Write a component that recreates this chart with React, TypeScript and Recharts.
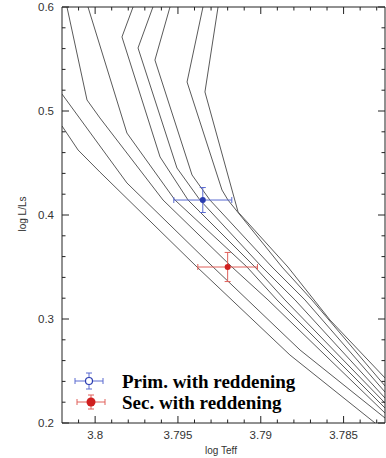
import { ComposedChart, ErrorBar, Line, Scatter, XAxis, YAxis } from "recharts";

const X_DOMAIN: [number, number] = [3.7825, 3.802];
const Y_DOMAIN: [number, number] = [0.2, 0.6];

const X_TICKS = [3.8, 3.795, 3.79, 3.785];
const X_MINOR = [
  3.783, 3.784, 3.786, 3.787, 3.788, 3.789, 3.791, 3.792, 3.793, 3.794, 3.796, 3.797,
  3.798, 3.799, 3.801,
];
const Y_TICKS = [0.2, 0.3, 0.4, 0.5, 0.6];
const Y_MINOR = [0.22, 0.24, 0.26, 0.28, 0.32, 0.34, 0.36, 0.38, 0.42, 0.44, 0.46, 0.48, 0.52, 0.54, 0.56, 0.58];

// evolutionary tracks (log Teff, log L)
const track1 = [
  { x: 3.802, y: 0.4856 },
  { x: 3.80103, y: 0.4625 },
  { x: 3.79971, y: 0.4413 },
  { x: 3.79385, y: 0.35 },
  { x: 3.78824, y: 0.2654 },
  { x: 3.7831, y: 0.2 },
];
const track2 = [
  { x: 3.802, y: 0.5163 },
  { x: 3.79808, y: 0.4308 },
  { x: 3.79288, y: 0.35 },
  { x: 3.78763, y: 0.2702 },
  { x: 3.7825, y: 0.2048 },
];
const track3 = [
  { x: 3.8017, y: 0.6 },
  { x: 3.80049, y: 0.5106 },
  { x: 3.79971, y: 0.4933 },
  { x: 3.7959, y: 0.4144 },
  { x: 3.79174, y: 0.35 },
  { x: 3.78956, y: 0.3183 },
  { x: 3.7825, y: 0.2096 },
];
const track4 = [
  { x: 3.80043, y: 0.6 },
  { x: 3.79808, y: 0.4788 },
  { x: 3.79518, y: 0.4144 },
  { x: 3.79083, y: 0.35 },
  { x: 3.78902, y: 0.3183 },
  { x: 3.7825, y: 0.2144 },
];
const track5 = [
  { x: 3.79771, y: 0.6 },
  { x: 3.79838, y: 0.5712 },
  { x: 3.79608, y: 0.4558 },
  { x: 3.79439, y: 0.4144 },
  { x: 3.79035, y: 0.35 },
  { x: 3.78854, y: 0.3183 },
  { x: 3.7825, y: 0.2192 },
];
const track6 = [
  { x: 3.79651, y: 0.6 },
  { x: 3.79741, y: 0.5606 },
  { x: 3.79506, y: 0.4452 },
  { x: 3.79367, y: 0.4144 },
  { x: 3.78993, y: 0.35 },
  { x: 3.78793, y: 0.3183 },
  { x: 3.7825, y: 0.224 },
];
const track7 = [
  { x: 3.79548, y: 0.6 },
  { x: 3.79639, y: 0.549 },
  { x: 3.79415, y: 0.4385 },
  { x: 3.79307, y: 0.4144 },
  { x: 3.78932, y: 0.35 },
  { x: 3.78733, y: 0.3183 },
  { x: 3.7825, y: 0.2298 },
];
const track8 = [
  { x: 3.79349, y: 0.6 },
  { x: 3.79445, y: 0.5279 },
  { x: 3.79234, y: 0.424 },
  { x: 3.79198, y: 0.4144 },
  { x: 3.78872, y: 0.35 },
  { x: 3.78691, y: 0.3183 },
  { x: 3.7825, y: 0.2356 },
];
const track9 = [
  { x: 3.79258, y: 0.6 },
  { x: 3.79337, y: 0.5183 },
  { x: 3.79137, y: 0.4029 },
  { x: 3.78836, y: 0.35 },
  { x: 3.78582, y: 0.299 },
  { x: 3.7825, y: 0.2433 },
];
const TRACKS = [track1, track2, track3, track4, track5, track6, track7, track8, track9];

const primary = [{ x: 3.7935, y: 0.4144, ex: 0.00175, ey: 0.012 }];
const secondary = [{ x: 3.792, y: 0.35, ex: 0.0018, ey: 0.014 }];

const AXIS = "#222";
const FONT = "Liberation Sans, Arial, sans-serif";
const BLUE = "#2a3cb0";
const BLUE_BAR = "#5a6bd0";
const RED = "#d01f1f";
const RED_BAR = "#e0605a";
const MAJOR = 7;
const MINOR = 3.5;
const MARGIN = 8;
const TOP = 7; // height of the top axis = y of the frame's top edge

const X_ALL = [...X_TICKS, ...X_MINOR];
const Y_ALL = [...Y_TICKS, ...Y_MINOR];
const isMajor = (list: number[], v: number) => list.some((t) => Math.abs(t - v) < 1e-7);

// tick marks point into the plot; the bottom tick also draws its twin on the top frame
function BottomTick(p: any) {
  const v = p.payload.value;
  const major = isMajor(X_TICKS, v);
  const len = major ? MAJOR : MINOR;
  const axisY = p.y - MARGIN;
  return (
    <g>
      <line x1={p.x} x2={p.x} y1={axisY} y2={axisY - len} stroke={AXIS} />
      <line x1={p.x} x2={p.x} y1={TOP} y2={TOP + len} stroke={AXIS} />
      {major && (
        <text x={p.x} y={p.y} dy="0.71em" textAnchor="middle" fontSize={11.5} fill="#333" fontFamily={FONT}>
          {String(v)}
        </text>
      )}
    </g>
  );
}

function LeftTick(p: any) {
  const v = p.payload.value;
  const major = isMajor(Y_TICKS, v);
  const axisX = p.x + MARGIN;
  return (
    <g>
      <line x1={axisX} x2={axisX + (major ? MAJOR : MINOR)} y1={p.y} y2={p.y} stroke={AXIS} />
      {major && (
        <text x={p.x} y={p.y} dy="0.355em" textAnchor="end" fontSize={11.5} fill="#333" fontFamily={FONT}>
          {Number(v).toFixed(1)}
        </text>
      )}
    </g>
  );
}

function RightTick(p: any) {
  const major = isMajor(Y_TICKS, p.payload.value);
  return <line x1={p.x} x2={p.x - (major ? MAJOR : MINOR)} y1={p.y} y2={p.y} stroke={AXIS} />;
}

function Dot(color: string) {
  return (p: any) => <circle cx={p.cx} cy={p.cy} r={3} fill={color} />;
}

export default function App() {
  return (
    <div style={{ position: "absolute", left: 0, top: 0, width: 386, height: 458, background: "#fff" }}>
      <ComposedChart width={386} height={458} margin={{ top: 0, right: 0, left: 0, bottom: 0 }}>
        <XAxis
          xAxisId="x"
          type="number"
          dataKey="x"
          domain={X_DOMAIN}
          reversed
          allowDataOverflow
          ticks={X_ALL}
          interval={0}
          height={35}
          tickLine={false}
          tickSize={0}
          tickMargin={MARGIN}
          axisLine={{ stroke: AXIS }}
          tick={BottomTick}
        />
        <XAxis
          xAxisId="top"
          orientation="top"
          type="number"
          domain={X_DOMAIN}
          reversed
          allowDataOverflow
          height={TOP}
          tickLine={false}
          tick={false}
          axisLine={{ stroke: AXIS }}
        />
        <YAxis
          yAxisId="y"
          type="number"
          dataKey="y"
          domain={Y_DOMAIN}
          allowDataOverflow
          ticks={Y_ALL}
          interval={0}
          width={62}
          tickLine={false}
          tickSize={0}
          tickMargin={MARGIN}
          axisLine={{ stroke: AXIS }}
          tick={LeftTick}
        />
        <YAxis
          yAxisId="right"
          orientation="right"
          type="number"
          domain={Y_DOMAIN}
          allowDataOverflow
          ticks={Y_ALL}
          interval={0}
          width={1}
          tickLine={false}
          tickSize={0}
          tickMargin={0}
          axisLine={{ stroke: AXIS }}
          tick={RightTick}
        />

        {TRACKS.map((track, i) => (
          <Line
            key={i}
            xAxisId="x"
            yAxisId="y"
            data={track}
            dataKey="y"
            type="linear"
            stroke="#5a5a5a"
            strokeWidth={1}
            dot={false}
            activeDot={false}
            isAnimationActive={false}
          />
        ))}

        <Scatter xAxisId="x" yAxisId="y" data={primary} dataKey="y" shape={Dot(BLUE)} isAnimationActive={false}>
          <ErrorBar dataKey="ex" direction="x" width={3} stroke={BLUE_BAR} strokeWidth={1} />
          <ErrorBar dataKey="ey" direction="y" width={3} stroke={BLUE_BAR} strokeWidth={1} />
        </Scatter>
        <Scatter xAxisId="x" yAxisId="y" data={secondary} dataKey="y" shape={Dot(RED)} isAnimationActive={false}>
          <ErrorBar dataKey="ex" direction="x" width={3} stroke={RED_BAR} strokeWidth={1} />
          <ErrorBar dataKey="ey" direction="y" width={3} stroke={RED_BAR} strokeWidth={1} />
        </Scatter>
      </ComposedChart>

      <svg
        width={386}
        height={458}
        style={{ position: "absolute", left: 0, top: 0, pointerEvents: "none" }}
      >
        {/* axis titles */}
        <text x={221} y={450} textAnchor="middle" dominantBaseline="central" fontSize={10}
          fontFamily={FONT} fill="#333">
          log Teff
        </text>
        <text x={22} y={214} textAnchor="middle" dominantBaseline="central" fontSize={10}
          fontFamily={FONT} fill="#333" transform="rotate(-90 22 214)">
          log L/Ls
        </text>

        {/* legend */}
        <g stroke={BLUE_BAR} strokeWidth={1}>
          <line x1={75} y1={381} x2={103} y2={381} />
          <line x1={75} y1={378} x2={75} y2={384} />
          <line x1={103} y1={378} x2={103} y2={384} />
          <line x1={89} y1={373} x2={89} y2={389} />
          <line x1={86} y1={373} x2={92} y2={373} />
          <line x1={86} y1={389} x2={92} y2={389} />
        </g>
        <circle cx={89} cy={381} r={3.5} fill="#fff" stroke={BLUE} strokeWidth={1.2} />
        <g stroke={RED_BAR} strokeWidth={1}>
          <line x1={77} y1={402} x2={105} y2={402} />
          <line x1={77} y1={399} x2={77} y2={405} />
          <line x1={105} y1={399} x2={105} y2={405} />
          <line x1={91} y1={395} x2={91} y2={409} />
          <line x1={88} y1={395} x2={94} y2={395} />
          <line x1={88} y1={409} x2={94} y2={409} />
        </g>
        <circle cx={91} cy={402} r={4.5} fill={RED} />
        <text x={122} y={381} dominantBaseline="central" fontSize={19} fontWeight="bold"
          fontFamily="Liberation Serif, Times New Roman, serif" fill="#000">
          Prim. with reddening
        </text>
        <text x={122} y={402} dominantBaseline="central" fontSize={19} fontWeight="bold"
          fontFamily="Liberation Serif, Times New Roman, serif" fill="#000">
          Sec. with reddening
        </text>
      </svg>
    </div>
  );
}
